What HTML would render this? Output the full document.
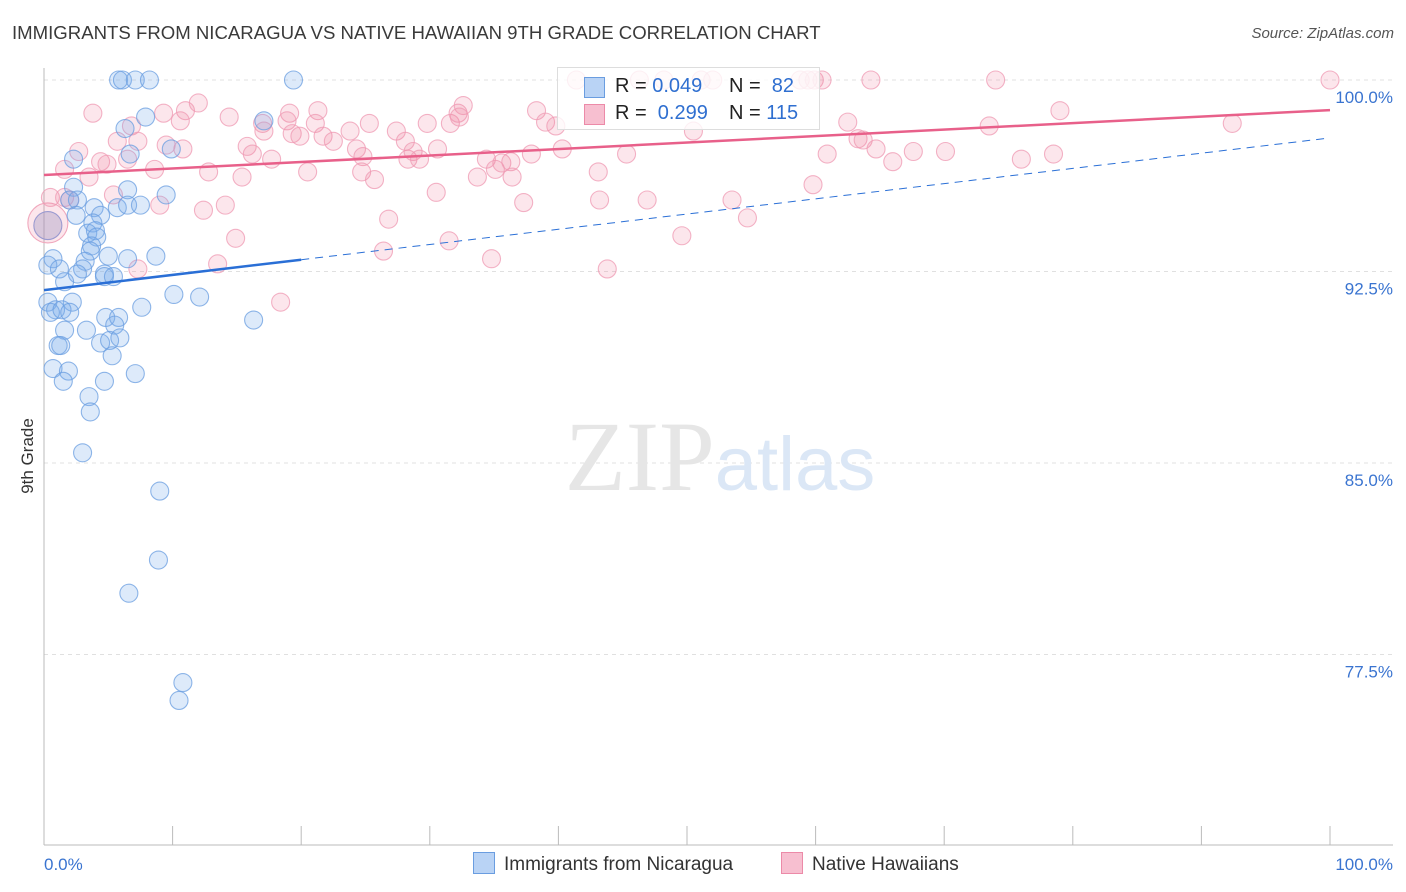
<!DOCTYPE html>
<html><head><meta charset="utf-8"><style>
body{margin:0;background:#fff;font-family:"Liberation Sans",sans-serif;}
#wrap{position:relative;width:1406px;height:892px;overflow:hidden;}
.t{position:absolute;white-space:nowrap;}
</style></head><body>
<div id="wrap">
<div class="t" style="left:12px;top:22px;font-size:18.6px;color:#3a3a3a;">IMMIGRANTS FROM NICARAGUA VS NATIVE HAWAIIAN 9TH GRADE CORRELATION CHART</div>
<div class="t" style="right:12px;top:25px;font-size:15px;color:#555;font-style:italic;">Source: ZipAtlas.com</div>
<svg id="svg" width="1406" height="892" style="position:absolute;left:0;top:0"></svg>
</div>
<script>
const yTicks=[100,92.5,85,77.5];
const yTickLabels=["100.0%","92.5%","85.0%","77.5%"];
const xTickLabels=["0.0%","100.0%"];
const blueX=[5.8,6.1,7.1,8.2,19.4,7.9,17.1,6.3,9.9,2.3,6.7,2.3,6.5,9.5,2.0,2.6,5.7,6.5,7.5,3.9,2.5,4.4,3.8,3.4,4.0,4.1,3.7,3.6,0.7,5.0,8.7,3.2,0.3,6.5,1.2,3.0,2.6,4.7,4.7,5.4,1.6,10.1,12.1,0.3,2.2,7.6,0.9,0.5,1.4,2.0,4.8,5.8,16.3,5.5,1.6,3.3,4.4,5.1,5.9,1.1,1.3,5.3,0.7,1.9,7.1,1.5,4.7,3.5,3.6,3.0,9.0,8.9,6.6,10.8,10.5];
const blueY=[100,100,100,100,100,98.55,98.4,98.1,97.3,96.9,97.1,95.8,95.7,95.5,95.3,95.3,95.0,95.1,95.1,95.0,94.7,94.7,94.4,94.0,94.1,93.85,93.5,93.3,93.0,93.1,93.1,92.9,92.75,93.0,92.6,92.6,92.4,92.4,92.3,92.3,92.1,91.6,91.5,91.3,91.3,91.1,91.0,90.9,91.0,90.9,90.7,90.7,90.6,90.4,90.2,90.2,89.7,89.8,89.9,89.6,89.6,89.2,88.7,88.6,88.5,88.2,88.2,87.6,87.0,85.4,83.9,81.2,79.9,76.4,75.7];
const pinkX=[3.8,2.7,4.4,4.9,6.8,5.7,6.5,8.6,11.0,9.3,12.0,10.6,10.8,12.8,14.4,15.8,16.2,15.4,17.0,17.1,17.7,19.1,18.9,19.3,19.9,20.5,21.3,21.1,21.7,22.5,23.8,24.3,24.8,25.3,24.7,25.7,27.4,28.1,28.3,28.7,29.2,29.8,30.6,31.6,32.2,32.6,32.3,33.7,34.4,35.1,35.6,36.3,36.4,38.3,37.9,39.0,39.8,40.3,41.4,43.1,45.3,46.3,48.2,50.5,51.1,52.0,58.8,59.4,59.9,60.5,62.5,63.3,63.7,64.3,64.7,66.0,67.6,70.1,74.0,73.5,76.0,78.5,79.0,92.4,100,43.2,46.9,53.5,54.7,59.8,60.9,49.6,26.4,31.5,34.8,43.8,26.8,30.5,37.3,18.4,13.5,14.9,14.1,12.4,9.0,7.3,5.4,0.5,1.6,1.6,7.3,2.0,3.5,9.5];
const pinkY=[98.7,97.2,96.8,96.7,98.2,97.6,96.9,96.5,98.8,98.7,99.1,98.4,97.3,96.4,98.55,97.4,97.1,96.2,98.3,98.0,96.9,98.7,98.4,97.9,97.8,96.4,98.8,98.3,97.8,97.6,98.0,97.3,97.0,98.3,96.4,96.1,98.0,97.6,96.9,97.2,96.9,98.3,97.3,98.3,98.7,99.0,98.55,96.2,96.9,96.5,96.75,96.8,96.2,98.8,97.1,98.35,98.2,97.3,100,96.4,97.1,100,100,98.0,100,100,100,100,100,100,98.35,97.7,97.65,100,97.3,96.8,97.2,97.2,100,98.2,96.9,97.1,98.8,98.3,100,95.3,95.3,95.3,94.6,95.9,97.1,93.9,93.3,93.7,93.0,92.6,94.55,95.6,95.2,91.3,92.8,93.8,95.1,94.9,95.1,92.6,95.5,95.4,96.5,95.4,97.6,95.3,96.2,97.45];
const blueTrend=[91.77,97.73];
const pinkTrend=[96.28,98.82];
const blueSolidEnd=20;

const X0=44,X1=1330,Y0=80,YSPAN=191.5/7.5;
const sx=v=>X0+(X1-X0)*v/100;
const sy=v=>Y0+(100-v)*YSPAN;
const svg=document.getElementById('svg');
const NS='http://www.w3.org/2000/svg';
function mk(tag,attrs,parent){const e=document.createElementNS(NS,tag);for(const k in attrs)e.setAttribute(k,attrs[k]);(parent||svg).appendChild(e);return e;}

yTicks.forEach((v,i)=>{
  const g=mk('line',{x1:44,x2:1393,y1:sy(v),y2:sy(v),stroke:'#e0e0e0','stroke-dasharray':'4,4'});
  
  
  const t=mk('text',{x:1393,y:sy(v)+23,'text-anchor':'end','font-size':17,fill:'#3a74d0','font-family':'Liberation Sans, sans-serif'});
  t.textContent=yTickLabels[i];
  
  
});
const ya=mk('line',{x1:44,x2:44,y1:68,y2:845,stroke:'#bbb'});


const xa=mk('line',{x1:44,x2:1393,y1:845,y2:845,stroke:'#bbb'});


for(let i=0;i<=10;i++){
  const tk=mk('line',{x1:sx(i*10),x2:sx(i*10),y1:826,y2:845,stroke:'#bbb'});
  
  
}
[[0,'start',44],[100,'end',1393]].forEach((d,i)=>{
  const t=mk('text',{x:d[2],y:870,'text-anchor':d[1],'font-size':17,fill:'#3a74d0','font-family':'Liberation Sans, sans-serif'});
  t.textContent=xTickLabels[i];
  
  
});
const yl=mk('text',{x:0,y:0,transform:'translate(33,456) rotate(-90)','text-anchor':'middle','font-size':17,fill:'#333','font-family':'Liberation Sans, sans-serif'});
yl.textContent='9th Grade';


const wm=mk('text',{x:720,y:490,'text-anchor':'middle','font-size':100,'font-family':'Liberation Serif, serif',fill:'#e6e6e6'});
wm.innerHTML='ZIP<tspan fill="#dbe7f6" font-family="Liberation Sans, sans-serif" font-size="76">atlas</tspan>';



function pts(xs,ys,fill,stroke,name){
  xs.forEach((x,i)=>{
    const c=mk('circle',{cx:sx(x),cy:sy(ys[i]),r:9,fill:fill,stroke:stroke,'stroke-width':1.1,'stroke-opacity':0.75});
    
    
  });
}
const bp=mk('circle',{cx:sx(0.3),cy:sy(94.4),r:20,fill:'rgba(240,130,160,0.2)',stroke:'#f0a8bd','stroke-width':1.1});


pts(pinkX,pinkY,'rgba(240,130,160,0.2)','#ef9ab3','pink-point');
const bb=mk('circle',{cx:sx(0.3),cy:sy(94.3),r:14,fill:'rgba(150,140,190,0.35)',stroke:'#9a9ad0','stroke-width':1.1});


pts(blueX,blueY,'rgba(120,170,235,0.25)','#6a9de0','blue-point');

const by=x=>blueTrend[0]+(blueTrend[1]-blueTrend[0])*x/100;
const py=x=>pinkTrend[0]+(pinkTrend[1]-pinkTrend[0])*x/100;
const bl=mk('line',{x1:sx(0),y1:sy(by(0)),x2:sx(blueSolidEnd),y2:sy(by(blueSolidEnd)),stroke:'#2a6fd6','stroke-width':2.5});


const bd=mk('line',{x1:sx(blueSolidEnd),y1:sy(by(blueSolidEnd)),x2:sx(100),y2:sy(by(100)),stroke:'#2a6fd6','stroke-width':1,'stroke-dasharray':'8,6'});


const pl=mk('line',{x1:sx(0),y1:sy(py(0)),x2:sx(100),y2:sy(py(100)),stroke:'#e8608a','stroke-width':2.5});


</script>
<div class="t" style="left:557px;top:67px;width:261px;height:61px;border:1px solid #ddd;background:rgba(255,255,255,0.8);font-size:20px;">
 <div style="position:absolute;left:26px;top:9px;width:19px;height:19px;background:#b9d3f5;border:1px solid #6a9de0"></div>
 <div style="position:absolute;left:57px;top:7px;color:#222">R = <span style="color:#2f6fd0">0.049</span></div>
 <div style="position:absolute;left:171px;top:7px;color:#222">N = &nbsp;<span style="color:#2f6fd0">82</span></div>
 <div style="position:absolute;left:26px;top:36px;width:19px;height:19px;background:#f7bfd0;border:1px solid #ec8aa8"></div>
 <div style="position:absolute;left:57px;top:34px;color:#222">R = &nbsp;<span style="color:#2f6fd0">0.299</span></div>
 <div style="position:absolute;left:171px;top:34px;color:#222">N = <span style="color:#2f6fd0">115</span></div>
</div>
<div class="t" style="left:473px;top:852px;font-size:19px;color:#333">
 <span style="display:inline-block;width:20px;height:20px;background:#b9d3f5;border:1px solid #6a9de0;vertical-align:-4px;margin-right:9px"></span>Immigrants from Nicaragua</div>
<div class="t" style="left:781px;top:852px;font-size:19px;color:#333">
 <span style="display:inline-block;width:20px;height:20px;background:#f7bfd0;border:1px solid #ec8aa8;vertical-align:-4px;margin-right:9px"></span>Native Hawaiians</div>
</body></html>
